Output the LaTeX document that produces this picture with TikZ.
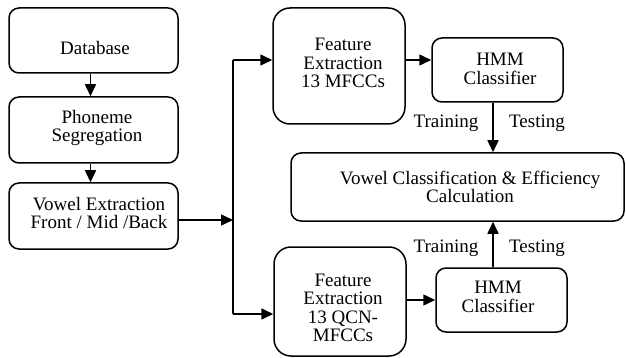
\documentclass[tikz,border=0pt]{standalone}
\usepackage{fontspec}
\setmainfont{Liberation Serif}
\usetikzlibrary{arrows.meta}
\begin{document}
\begin{tikzpicture}[x=1pt,y=-1pt,
  box/.style={draw,line width=1.5pt,rounded corners=10pt,inner sep=0pt},
  bigbox/.style={box,rounded corners=17pt},
  txt/.style={align=center,inner sep=0pt,font=\fontsize{19}{18.5}\selectfont},
  arr/.style={line width=1.5pt,-{Triangle[length=12pt,width=11pt]}},
  ln/.style={line width=1.5pt}]
\useasboundingbox (0,0) rectangle (626,358);
% boxes
\node[box,minimum width=169pt,minimum height=65pt] (db) at (93.5,40.5) {};
\node[box,minimum width=169pt,minimum height=66pt] (ph) at (93.5,130) {};
\node[box,minimum width=169pt,minimum height=66pt] (ve) at (93.5,216) {};
\node[bigbox,minimum width=132pt,minimum height=116pt] (fe1) at (339,66) {};
\node[bigbox,minimum width=132pt,minimum height=109pt] (fe2) at (340,301.5) {};
\node[box,minimum width=131pt,minimum height=64pt] (hmm1) at (497.5,70) {};
\node[box,minimum width=131pt,minimum height=64pt] (hmm2) at (501.5,300) {};
\node[box,minimum width=333pt,minimum height=68pt] (vc) at (457.5,187) {};
% texts
\node[txt] (dbt) at (95,48) {Database};
\node[txt] (pht) at (97,128) {Phoneme\\Segregation};
\node[txt] (vet) at (99,213) {Vowel Extraction\\Front / Mid /Back};
\node[txt] (fe1t) at (343,63) {Feature\\Extraction\\13 MFCCs};
\node[txt] (fe2t) at (343,308) {Feature\\Extraction\\13 QCN-\\MFCCs};
\node[txt] (hmm1t) at (500,69) {HMM\\Classifier};
\node[txt] (hmm2t) at (498,297) {HMM\\Classifier};
\node[txt] (vct) at (470,187) {Vowel Classification \& Efficiency\\Calculation};
\node[txt] (tr1) at (446,123) {Training};
\node[txt] (te1) at (537,123) {Testing};
\node[txt] (tr2) at (446,248) {Training};
\node[txt] (te2) at (537,248) {Testing};
% bus
\coordinate (bt) at (233,60);
\coordinate (bb) at (233,314);
\coordinate (jn) at (233,220);
% connectors
\draw[arr] ([xshift=-3pt]db.south) -- ([xshift=-3pt]ph.north);
\draw[arr] ([xshift=-3pt]ph.south) -- ([xshift=-3pt]ve.north);
\draw[ln] (bt) -- (bb);
\draw[arr] (ve.east |- jn) -- (jn);
\draw[arr] (bt) -- (bt -| fe1.west);
\draw[arr] (bb) -- (bb -| fe2.west);
\draw[arr] (fe1.east |- bt) -- (hmm1.west |- bt);
\draw[arr] (fe2.east |- hmm2.west) -- (hmm2.west);
\draw[arr] ([xshift=-4.5pt]hmm1.south) -- ([xshift=-4.5pt]hmm1.south |- vc.north);
\draw[arr] ([xshift=-8.5pt]hmm2.north) -- ([xshift=-8.5pt]hmm2.north |- vc.south);
\end{tikzpicture}
\end{document}
